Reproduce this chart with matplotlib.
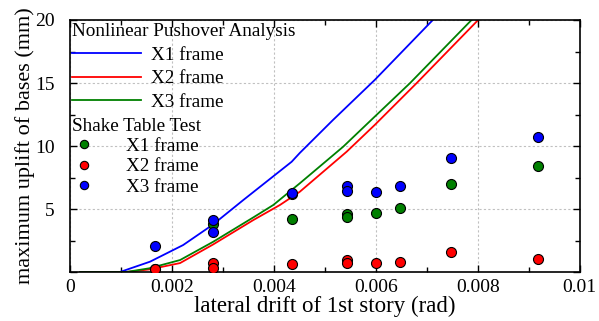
import numpy as np
import matplotlib.pyplot as plt
from matplotlib.lines import Line2D
from matplotlib.ticker import MultipleLocator

plt.rcParams['font.family'] = ['Liberation Serif', 'DejaVu Serif']

# pushover analysis curves (drift rad, uplift mm)
x1_drift = [0.0002, 0.00098, 0.00157, 0.00222, 0.0028, 0.0034, 0.00435, 0.00451, 0.00516, 0.00598, 0.00712]
x1_uplift = [0.0, 0.0, 0.82, 2.14, 3.75, 5.71, 8.75, 9.45, 12.06, 15.24, 20.0]

x2_drift = [0.0002, 0.0011, 0.00155, 0.00216, 0.00281, 0.0036, 0.00412, 0.00451, 0.00543, 0.00598, 0.0068, 0.00801]
x2_uplift = [0.0, 0.0, 0.2, 0.71, 2.19, 4.13, 5.32, 6.37, 9.55, 11.67, 14.98, 20.0]

x3_drift = [0.0002, 0.0011, 0.00155, 0.00216, 0.00281, 0.0036, 0.00399, 0.00451, 0.00536, 0.00598, 0.00667, 0.00788]
x3_uplift = [0.0, 0.0, 0.29, 0.95, 2.4, 4.34, 5.32, 7.04, 9.94, 12.33, 14.98, 20.0]

# shake table test
st_x1_drift = [0.00167, 0.0028, 0.00435, 0.00435, 0.00544, 0.00544, 0.006, 0.00648, 0.00748, 0.00918]
st_x1_uplift = [0.2, 3.8, 6.2, 4.23, 4.6, 4.4, 4.65, 5.08, 6.98, 8.41]

st_x2_drift = [0.00167, 0.0028, 0.0028, 0.00435, 0.00544, 0.00544, 0.006, 0.00648, 0.00748, 0.00918]
st_x2_uplift = [0.24, 0.69, 0.34, 0.63, 0.95, 0.74, 0.71, 0.82, 1.59, 1.06]

st_x3_drift = [0.00167, 0.0028, 0.0028, 0.00435, 0.00544, 0.00544, 0.006, 0.00648, 0.00748, 0.00918]
st_x3_uplift = [2.06, 4.13, 3.15, 6.3, 6.83, 6.45, 6.32, 6.83, 9.07, 10.74]

xticks = [0, 0.002, 0.004, 0.006, 0.008, 0.01]
xtick_labels = ["0", "0.002", "0.004", "0.006", "0.008", "0.01"]
yticks = [0, 5, 10, 15, 20]
ytick_labels = ["", "5", "10", "15", "20"]

fig = plt.figure(figsize=(5.99, 3.21), dpi=100)
ax = fig.add_axes([0.1169, 0.1526, 0.8506, 0.7851])

l1, = ax.plot(x1_drift, x1_uplift, color='blue', lw=1.3)
l2, = ax.plot(x2_drift, x2_uplift, color='red', lw=1.3)
l3, = ax.plot(x3_drift, x3_uplift, color='green', lw=1.3)

mk = dict(marker='o', ls='none', ms=7.2, mec='black', mew=0.8, zorder=4)
ax.plot(st_x1_drift, st_x1_uplift, mfc='green', **mk)
ax.plot(st_x2_drift, st_x2_uplift, mfc='red', **mk)
ax.plot(st_x3_drift, st_x3_uplift, mfc='blue', **mk)

ax.set_xlim(0, 0.01)
ax.set_ylim(0, 20)
ax.set_xticks(xticks, xtick_labels)
ax.set_yticks(yticks, ytick_labels)
ax.xaxis.set_minor_locator(MultipleLocator(0.001))
ax.yaxis.set_minor_locator(MultipleLocator(2.5))
ax.tick_params(which='both', direction='in', top=True, right=True, labelsize=14)
ax.tick_params(which='major', length=5, width=1)
ax.tick_params(which='minor', length=3.5, width=1)
ax.tick_params(axis='x', pad=5)
ax.tick_params(axis='y', pad=11)
for s in ax.spines.values():
    s.set_linewidth(1.2)
ax.grid(which='major', linestyle=(0, (2, 2)), color='#c0c0c0', lw=0.8)

ax.set_xlabel("lateral drift of 1st story (rad)", fontsize=16.5, labelpad=0)
ax.set_ylabel("maximum uplift of bases (mm)", fontsize=16, labelpad=0)

leg1 = ax.legend([l1, l2, l3], ["X1 frame", "X2 frame", "X3 frame"],
                 title="Nonlinear Pushover Analysis", title_fontsize=13.8, fontsize=13.8,
                 loc='upper left', bbox_to_anchor=(0.0, 0.995), frameon=False,
                 handlelength=3.6, handletextpad=0.55, borderpad=0.1, labelspacing=0.32,
                 borderaxespad=0.0, alignment='left')
ax.add_artist(leg1)

h = [Line2D([], [], marker='o', ls='none', ms=6, mec='black', mew=0.8, mfc=c)
     for c in ['green', 'red', 'blue']]
leg2 = ax.legend(h, ["X1 frame", "X2 frame", "X3 frame"],
                 title="Shake Table Test", title_fontsize=13.8, fontsize=13.8,
                 loc='upper left', bbox_to_anchor=(0.0, 0.62), frameon=False,
                 handlelength=1.3, handletextpad=1.5, borderpad=0.1, labelspacing=0.15,
                 borderaxespad=0.0, alignment='left')

fig.savefig('out.png', dpi=100)
